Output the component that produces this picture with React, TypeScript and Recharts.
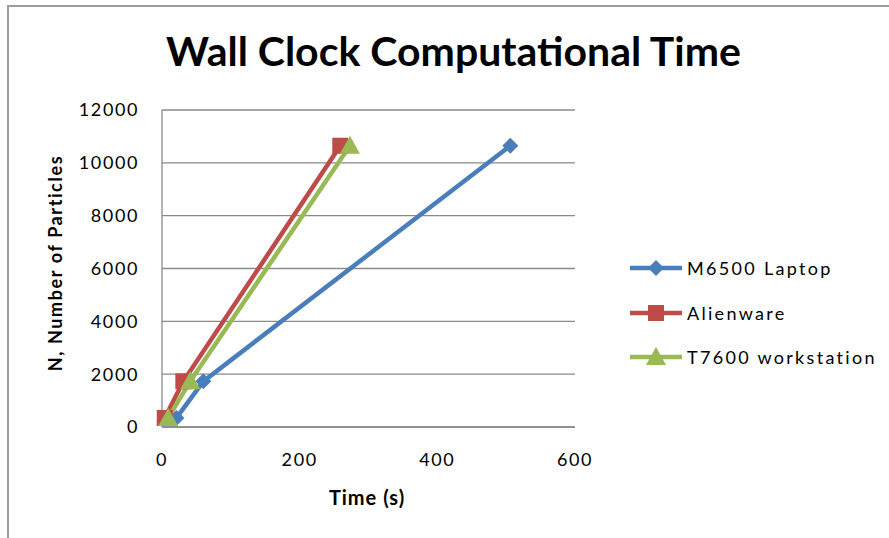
import React from "react";
import { CartesianGrid, Line, LineChart, XAxis, YAxis } from "recharts";

const seriesNames = ["M6500 Laptop", "Alienware", "T7600 workstation"];
const seriesColors = ["#4a7ebb", "#be4b48", "#98b954"];
const particles = [343, 1728, 10648];
const m6500Times = [21, 60, 506];
const alienwareTimes = [4, 31, 259];
const t7600Times = [9, 41, 273];
const xTicks = [0, 200, 400, 600];
const yTicks = [0, 2000, 4000, 6000, 8000, 10000, 12000];

const toPoints = (times: number[]) => times.map((t, i) => ({ t, n: particles[i] }));
const seriesData = [toPoints(m6500Times), toPoints(alienwareTimes), toPoints(t7600Times)];

const FONT = "Lato, 'Open Sans', sans-serif";
const GRID = "#8a8a8a";

function Marker({ kind, cx, cy, color }: { kind: number; cx: number; cy: number; color: string }) {
  if (cx == null || cy == null) return null;
  if (kind === 0) {
    const r = 8;
    return <polygon points={`${cx},${cy - r} ${cx + r},${cy} ${cx},${cy + r} ${cx - r},${cy}`} fill={color} />;
  }
  if (kind === 1) {
    const s = 8;
    return <rect x={cx - s} y={cy - s} width={s * 2} height={s * 2} fill={color} />;
  }
  const h = 9;
  return <polygon points={`${cx},${cy - h - 1} ${cx + h + 1},${cy + h - 1} ${cx - h - 1},${cy + h - 1}`} fill={color} />;
}

function LegendBox() {
  return (
    <div style={{ position: "absolute", left: 628, top: 246, fontFamily: FONT, fontSize: 18, letterSpacing: 2.3, color: "#000" }}>
      {seriesNames.map((name, i) => (
        <div key={name} style={{ display: "flex", alignItems: "center", height: 44.5 }}>
          <svg width={56} height={20} style={{ marginRight: 3 }}>
            <line x1={2} y1={10} x2={54} y2={10} stroke={seriesColors[i]} strokeWidth={4.5} />
            <Marker kind={i} cx={28} cy={10} color={seriesColors[i]} />
          </svg>
          <span>{name}</span>
        </div>
      ))}
    </div>
  );
}

export default function App() {
  const tickStyle = { fill: "#000", fontSize: 18, fontFamily: FONT, letterSpacing: 1.6 };
  return (
    <div style={{ position: "absolute", left: 0, top: 0, width: 889, height: 538, background: "#fff", overflow: "hidden" }}>
      <div
        style={{
          position: "absolute",
          left: 7,
          top: 5,
          width: 900,
          height: 600,
          borderTop: "2px solid #9c9c9c",
          borderLeft: "2px solid #9c9c9c",
        }}
      />
      <div
        style={{
          position: "absolute",
          left: 0,
          top: 26,
          width: 907,
          textAlign: "center",
          fontFamily: FONT,
          fontWeight: 700,
          fontSize: 41,
          color: "#000",
        }}
      >
        Wall Clock Computational Time
      </div>
      <div style={{ position: "absolute", left: 0, top: 0 }}>
        <LineChart width={889} height={538} margin={{ top: 110, right: 314, bottom: 71, left: 102 }}>
          <CartesianGrid horizontal vertical={false} stroke={GRID} strokeWidth={1.3} />
          <XAxis
            type="number"
            dataKey="t"
            domain={[0, 600]}
            ticks={xTicks}
            tickSize={0}
            tickMargin={26}
            height={40}
            axisLine={{ stroke: GRID, strokeWidth: 1.3 }}
            tick={tickStyle}
          />
          <YAxis
            type="number"
            dataKey="n"
            domain={[0, 12000]}
            ticks={yTicks}
            tickSize={0}
            tickMargin={23}
            width={60}
            axisLine={{ stroke: GRID, strokeWidth: 1.3 }}
            tick={tickStyle}
          />
          {seriesNames.map((name, i) => (
            <Line
              key={name}
              name={name}
              data={seriesData[i]}
              dataKey="n"
              type="linear"
              stroke={seriesColors[i]}
              strokeWidth={4.5}
              dot={(p: any) => <Marker key={`${name}-${p.index}`} kind={i} cx={p.cx} cy={p.cy} color={seriesColors[i]} />}
              activeDot={false}
              isAnimationActive={false}
            />
          ))}
        </LineChart>
      </div>
      <svg width={889} height={538} style={{ position: "absolute", left: 0, top: 0, pointerEvents: "none" }}>
        <text
          x={0}
          y={0}
          transform="translate(55,263) rotate(-90)"
          textAnchor="middle"
          dominantBaseline="central"
          fontFamily={FONT}
          fontWeight={700}
          fontSize={18}
          letterSpacing={1.6}
          fill="#000"
        >
          N, Number of Particles
        </text>
        <text
          x={367}
          y={497}
          textAnchor="middle"
          dominantBaseline="central"
          fontFamily={FONT}
          fontWeight={700}
          fontSize={20}
          letterSpacing={1}
          fill="#000"
        >
          Time (s)
        </text>
      </svg>
      <LegendBox />
    </div>
  );
}
